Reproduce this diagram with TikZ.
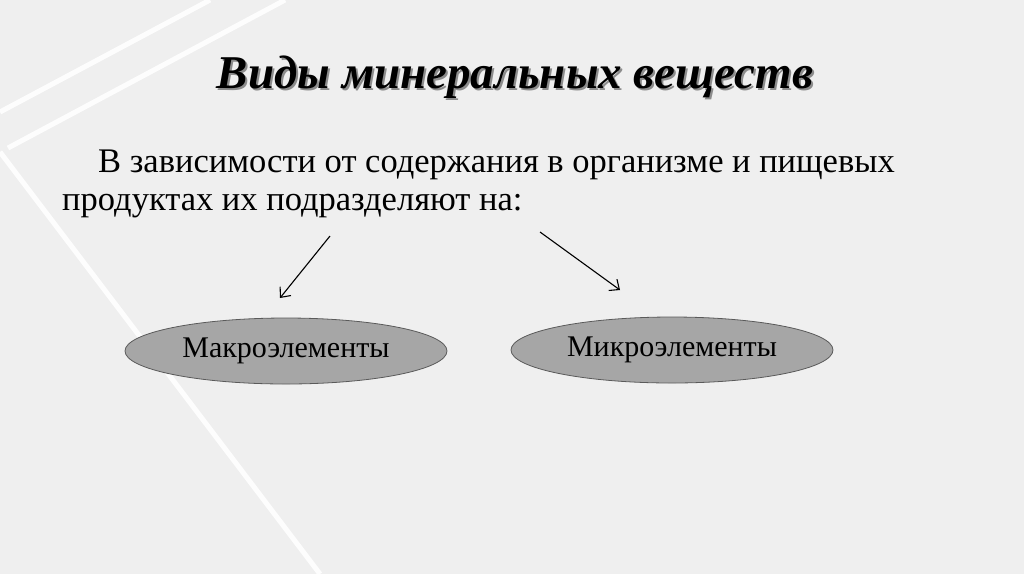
\documentclass[tikz,border=0pt]{standalone}
\usepackage{fontspec}
\setmainfont{Liberation Serif}
\usetikzlibrary{positioning,arrows.meta,shapes.geometric}
\definecolor{fondo}{HTML}{EFEFEF}
\definecolor{elipse}{HTML}{A6A6A6}
\definecolor{borde}{HTML}{5A5A5A}

\begin{document}
\begin{tikzpicture}[x=1pt,y=-1pt,
        e/.style={ellipse,draw=borde,fill=elipse,line width=0.8pt,minimum width=322pt,minimum height=66pt,inner sep=0pt,font=\fontsize{30}{34}\selectfont},
        f/.style={-{Straight Barb[length=8pt,width=14pt]},line width=1.1pt},
        raya/.style={white,line width=5pt,opacity=0.9},
        ti/.style={font=\fontsize{47}{52}\selectfont\bfseries\itshape,anchor=base},
        txt/.style={anchor=base west,inner sep=0pt,font=\fontsize{34.5}{40}\selectfont}]
        \fill[fondo] (0,0) rectangle (1024,574);
        \useasboundingbox (0,0) rectangle (1024,574);
        % rayas del fondo
        \draw[raya] (0,112) -- (210,0);
        \draw[raya] (8,148) -- (285,0);
        \draw[raya] (0,152) -- (320,574);
        \node[ti,text=black!45] (ts) at (517,90) {Виды минеральных веществ};
        \node[ti] (t) at (515,88) {Виды минеральных веществ};
        \node[txt] (l1) at (98,172) {В зависимости от содержания в организме и пищевых};
        \node[txt] (l2) at (62,210) {продуктах их подразделяют на:};
        \node[e] (ma) at (286,351) {Макроэлементы};
        \node[e] (mi) at (672,350) {Микроэлементы};
        \coordinate (a1) at (330,236); \coordinate (a2) at (280,298);
        \coordinate (b1) at (540,232); \coordinate (b2) at (620,290);
        \draw[f] (a1) -- (a2); \draw[f] (b1) -- (b2);
      \end{tikzpicture}
\end{document}
